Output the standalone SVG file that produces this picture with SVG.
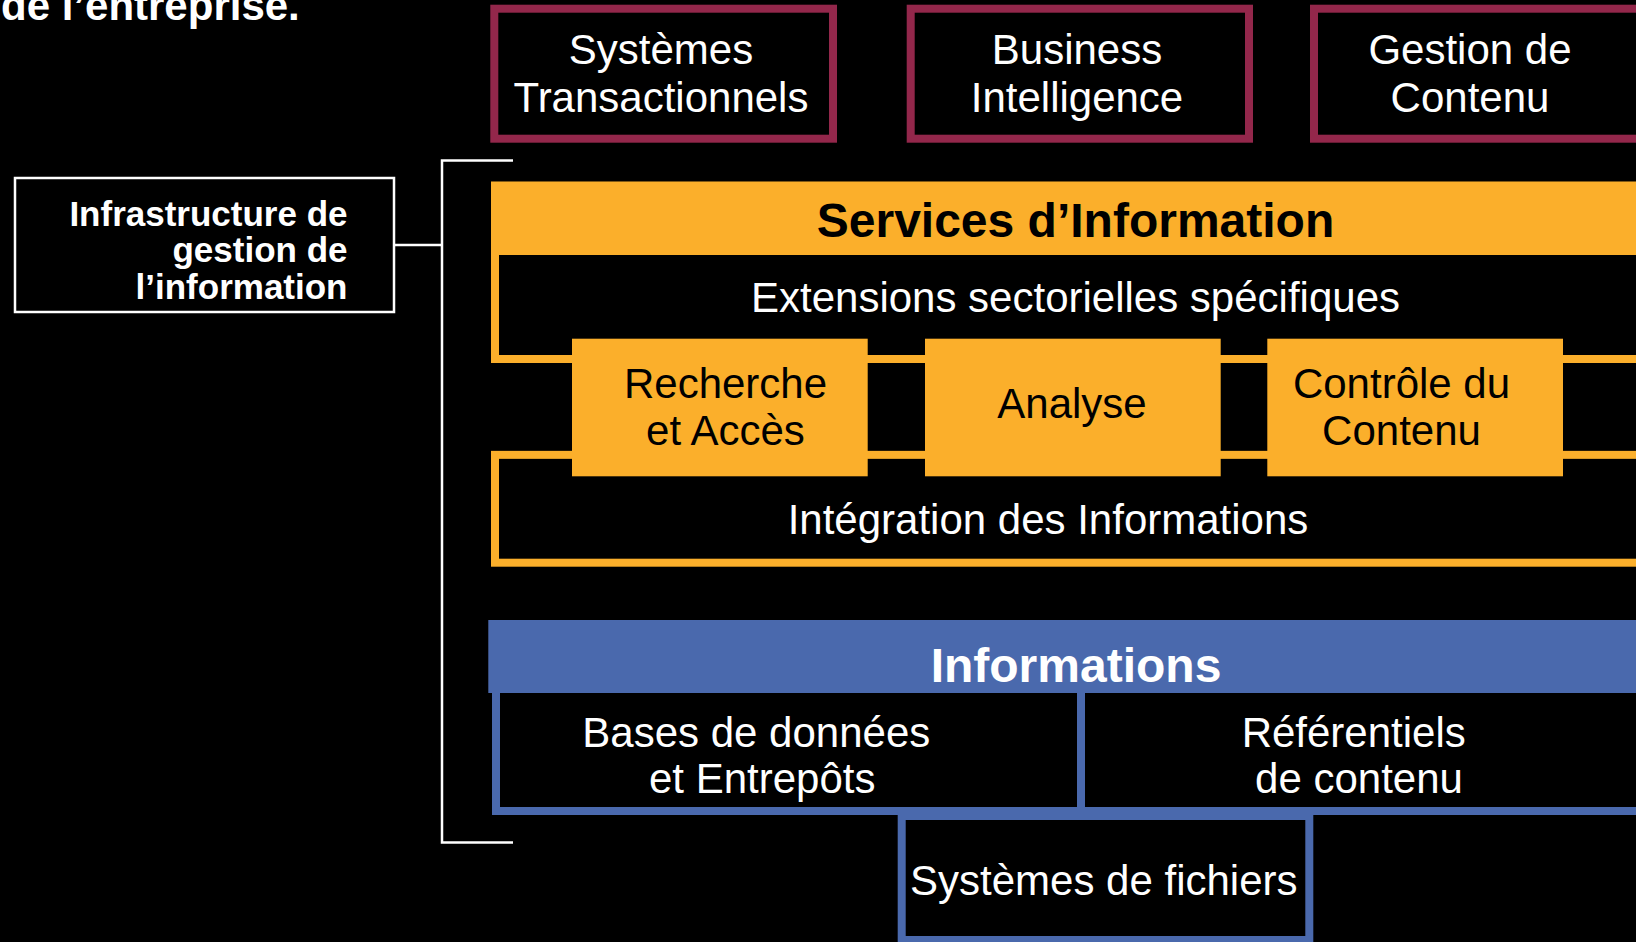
<svg xmlns="http://www.w3.org/2000/svg" width="1636" height="942" viewBox="0 0 1636 942">
<style>
text{font-family:"Liberation Sans",Arial,sans-serif;}
.w{fill:#ffffff;font-size:42px;text-anchor:middle;}
.k{fill:#000000;font-size:42px;text-anchor:middle;}
.hb{font-size:48px;font-weight:bold;text-anchor:middle;}
.red{fill:none;stroke:#93274B;stroke-width:8;}
.or{fill:none;stroke:#FBAF2B;stroke-width:8;}
.orf{fill:#FBAF2B;}
.bl{fill:none;stroke:#4A69AD;stroke-width:8;}
.line{fill:none;stroke:#ffffff;stroke-width:2.5;}
</style>
<rect x="0" y="0" width="1636" height="942" fill="#000000"/>

<g id="title">
<text x="1" y="20" style="fill:#ffffff;font-size:42px;font-weight:bold;">de l’entreprise.</text>
</g>

<g id="infrastructure">
<rect x="15" y="178" width="379" height="134" class="line"/>
<text x="347.5" y="226" style="fill:#ffffff;font-size:35px;font-weight:bold;text-anchor:end;">Infrastructure de</text>
<text x="347.5" y="262" style="fill:#ffffff;font-size:35px;font-weight:bold;text-anchor:end;">gestion de</text>
<text x="347.5" y="299" style="fill:#ffffff;font-size:35px;font-weight:bold;text-anchor:end;">l’information</text>
</g>

<g id="connectors">
<path class="line" d="M513,160.5 H442 V842.5 H513"/>
<path class="line" d="M394,245 H442"/>
</g>

<g id="systemes-transactionnels">
<rect x="494.3" y="8.7" width="338.7" height="130" class="red"/>
<text x="661" y="64" class="w">Systèmes</text>
<text x="661" y="111.7" class="w">Transactionnels</text>
</g>
<g id="business-intelligence">
<rect x="910.7" y="8.7" width="338.3" height="130" class="red"/>
<text x="1077" y="64" class="w">Business</text>
<text x="1077" y="111.7" class="w">Intelligence</text>
</g>
<g id="gestion-contenu">
<rect x="1314" y="8.7" width="338" height="130" class="red"/>
<text x="1470" y="64" class="w">Gestion de</text>
<text x="1470" y="111.7" class="w">Contenu</text>
</g>

<g id="services-information">
<rect x="495" y="185.7" width="1170" height="173.3" class="or"/>
<rect x="491" y="181.7" width="1180" height="73.3" class="orf"/>
<text x="1075.5" y="236.7" class="hb" fill="#000000">Services d’Information</text>
</g>
<g id="extensions">
<text x="1075.5" y="311.7" class="w">Extensions sectorielles spécifiques</text>
</g>
<g id="integration">
<rect x="495" y="454.85" width="1170" height="107.85" class="or"/>
<text x="1048" y="534" class="w">Intégration des Informations</text>
</g>
<g id="recherche">
<rect x="572" y="338.7" width="295.7" height="137.6" class="orf"/>
<text x="725.5" y="398.3" class="k">Recherche</text>
<text x="725.5" y="445" class="k">et Accès</text>
</g>
<g id="analyse">
<rect x="925" y="338.7" width="295.7" height="137.6" class="orf"/>
<text x="1072" y="418.3" class="k">Analyse</text>
</g>
<g id="controle">
<rect x="1267.3" y="338.7" width="295.7" height="137.6" class="orf"/>
<text x="1401.5" y="398.3" class="k">Contrôle du</text>
<text x="1401.5" y="445" class="k">Contenu</text>
</g>

<g id="informations">
<rect x="488.3" y="620" width="1180" height="73" fill="#4A69AD"/>
<text x="1076" y="681.7" class="hb" fill="#ffffff">Informations</text>
</g>
<g id="bases">
<rect x="496" y="689" width="585" height="122" class="bl"/>
<text x="756.3" y="746.7" class="w">Bases de données</text>
<text x="762.2" y="793.3" class="w">et Entrepôts</text>
</g>
<g id="referentiels">
<rect x="1081" y="689" width="600" height="122" class="bl"/>
<text x="1353.7" y="746.7" class="w">Référentiels</text>
<text x="1359" y="793.3" class="w">de contenu</text>
</g>
<g id="fichiers">
<rect x="901.7" y="816" width="407.6" height="124" class="bl"/>
<text x="1103.8" y="895" class="w">Systèmes de fichiers</text>
</g>
</svg>
